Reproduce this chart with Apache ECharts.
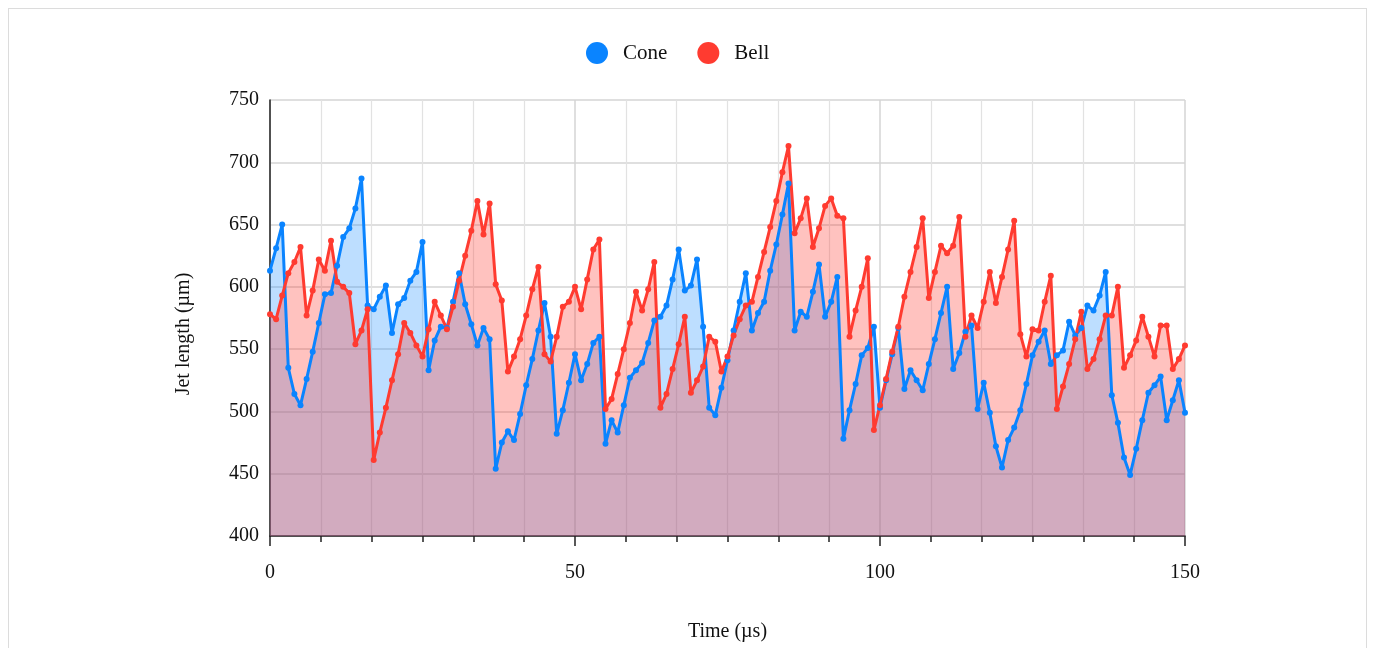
<!DOCTYPE html>
<html><head><meta charset="utf-8">
<script src="https://cdn.jsdelivr.net/npm/echarts/dist/echarts.min.js"></script>
<style>
html,body{margin:0;padding:0;background:#fff;}
#frame{position:absolute;left:8px;top:8px;width:1359px;height:700px;border:1px solid #dcdcdc;box-sizing:border-box;}
#c{position:absolute;left:0;top:0;width:1375px;height:648px;}
</style>
</head><body><div id="frame"></div><div id="c"></div>
<script>
// Jet length (µm), one sample per 1 µs starting at t = 0
const timeStepUs = 1;
const cone = [613,631,650,535,514,505,526,548,571,594,595,617,640,647,663,687,585,582,592,601,
  563,586,591,605,612,636,533,557,568,567,588,611,586,570,553,567,558,454,475,484,
  477,498,521,542,565,587,560,482,501,523,546,525,538,555,560,474,493,483,505,527,
  533,539,555,573,576,585,606,630,597,601,622,568,503,497,519,541,565,588,611,565,
  579,588,613,634,658,683,565,580,576,596,618,576,588,608,478,501,522,545,551,568,
  503,525,546,567,518,533,525,517,538,558,579,600,534,547,564,569,502,523,499,472,
  455,477,487,501,522,545,556,565,538,545,549,572,561,567,585,581,593,612,513,491,
  463,449,470,493,515,521,528,493,509,525,499];
const bell = [578,574,593,611,620,632,577,597,622,613,637,604,600,595,554,565,582,461,483,503,
  525,546,571,563,553,544,566,588,577,566,584,605,625,645,669,642,667,602,589,532,
  544,558,577,598,616,546,540,560,584,588,600,582,606,630,638,502,510,530,550,571,
  596,581,598,620,503,514,534,554,576,515,525,536,560,556,532,544,561,574,585,588,
  608,628,648,669,692,713,643,655,671,632,647,665,671,657,655,560,581,600,623,485,
  505,526,548,568,592,612,632,655,591,612,633,627,633,656,560,577,567,588,612,587,
  608,630,653,562,544,566,565,588,609,502,520,538,558,580,534,542,558,577,577,600,
  535,545,557,576,560,544,569,569,534,542,553];
const seriesNames = ['Cone','Bell'];
const xTicks = [0,50,100,150];
const yTicks = [400,450,500,550,600,650,700,750];

const BLUE = '#0A84FF', RED = '#FF3B30';
const FONT = "'Liberation Serif','Times New Roman',serif";
const toPairs = arr => arr.map((v,i)=>[i*timeStepUs, v]);
const coneData = toPairs(cone), bellData = toPairs(bell);

const chart = echarts.init(document.getElementById('c'), null, {renderer:'canvas'});
const areaSeries = (name, data, fill) => ({
  name: name + ' area', type:'line', data, symbol:'none', silent:true,
  lineStyle:{width:0}, itemStyle:{color:fill},
  areaStyle:{color:fill, origin:'start', opacity:1}, z:1, animation:false
});
const lineSeries = (name, data, color) => ({
  name, type:'line', data, symbol:'circle', symbolSize:6, showAllSymbol:true,
  lineStyle:{width:3, color}, itemStyle:{color}, z:3, animation:false
});
chart.setOption({
  animation:false,
  legend:{
    data:seriesNames, top:37, left:581, icon:'circle', itemWidth:22, itemHeight:22, itemGap:30,
    textStyle:{fontFamily:FONT, fontSize:21, color:'#111', padding:[0,0,0,10]}
  },
  grid:{left:270, right:190, top:100, bottom:112, containLabel:false},
  xAxis:{
    type:'value', min:xTicks[0], max:xTicks[xTicks.length-1], interval:xTicks[1]-xTicks[0],
    name:'Time (µs)', nameLocation:'middle', nameGap:86,
    nameTextStyle:{fontFamily:FONT, fontSize:20, color:'#111'},
    axisLine:{show:true, lineStyle:{color:'#222', width:1.5}},
    axisTick:{show:true, length:10, lineStyle:{color:'#222', width:1.5}},
    minorTick:{show:true, splitNumber:6, length:6, lineStyle:{color:'#222', width:1.5}},
    splitLine:{show:true, lineStyle:{color:'#d4d4d4', width:1.5}},
    minorSplitLine:{show:true, lineStyle:{color:'#e2e2e2', width:1.2}},
    axisLabel:{fontFamily:FONT, fontSize:20, color:'#111', margin:27}
  },
  yAxis:{
    type:'value', min:yTicks[0], max:yTicks[yTicks.length-1], interval:yTicks[1]-yTicks[0],
    name:'Jet length (µm)', nameLocation:'middle', nameGap:76, nameRotate:90,
    nameTextStyle:{fontFamily:FONT, fontSize:20, color:'#111', padding:[0,32,0,0]},
    axisLine:{show:true, lineStyle:{color:'#222', width:1.5}},
    axisTick:{show:false},
    splitLine:{show:true, lineStyle:{color:'#d4d4d4', width:1.5}},
    axisLabel:{fontFamily:FONT, fontSize:20, color:'#111', margin:11, padding:[3,0,0,0]}
  },
  series:[
    areaSeries('Cone', coneData, 'rgba(10,132,255,0.27)'),
    areaSeries('Bell', bellData, 'rgba(255,59,48,0.31)'),
    lineSeries('Cone', coneData, BLUE),
    lineSeries('Bell', bellData, RED)
  ]
});
</script></body></html>
